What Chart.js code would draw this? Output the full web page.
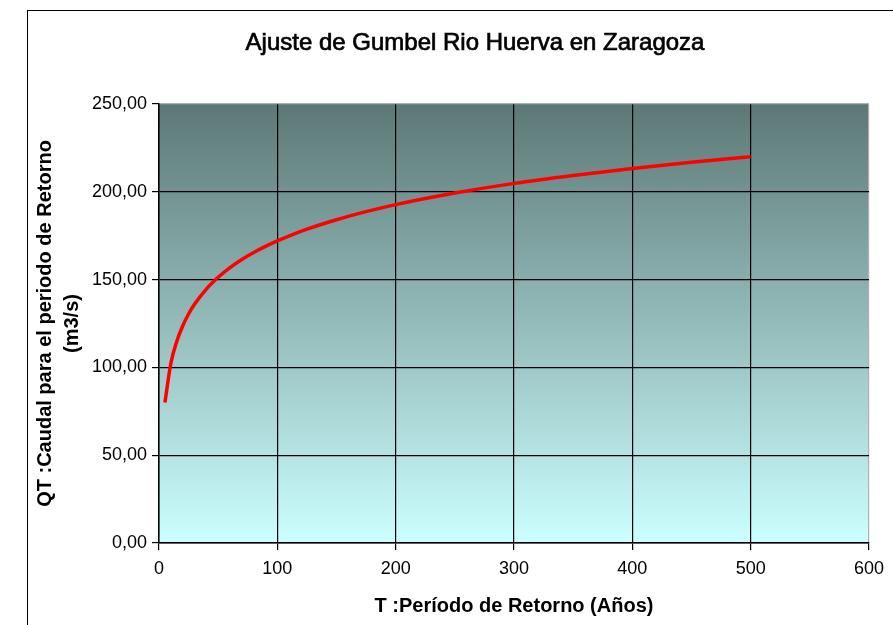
<!DOCTYPE html>
<html>
<head>
<meta charset="utf-8">
<script src="https://cdn.jsdelivr.net/npm/chart.js@4.4.1/dist/chart.umd.min.js"></script>
<style>
  html, body { margin: 0; padding: 0; background: #fff; overflow: hidden; }
  #wrap { position: relative; width: 893px; height: 625px; }
  #frame { position: absolute; left: 27px; top: 10px; width: 900px; height: 700px;
           border-left: 1.5px solid #000; border-top: 1.5px solid #000; box-sizing: border-box; }
  canvas { position: absolute; left: 0; top: 0; }
</style>
</head>
<body>
<div id="wrap">
  <div id="frame"></div>
  <canvas id="c" width="893" height="625"></canvas>
</div>
<script>
// Return period T (years) and the fitted Gumbel discharge QT (m3/s)
const periods = [5, 10, 15, 20, 25, 30, 40, 50, 60, 70, 80, 90, 100, 125, 150, 175, 200, 250, 300, 350, 400, 450, 500];
const discharge = [80.0, 102.2, 114.8, 123.6, 130.4, 135.9, 144.6, 151.3, 156.8, 161.4, 165.4, 168.9, 172.0, 178.7, 184.1, 188.7, 192.7, 199.3, 204.8, 209.3, 213.3, 216.8, 220.0];

const xTicks = [0, 100, 200, 300, 400, 500, 600];
const yTicks = [0, 50, 100, 150, 200, 250];

const chartTitle = 'Ajuste de Gumbel Rio Huerva en Zaragoza';
const yTitle = ['QT :Caudal para el periodo de Retorno', '(m3/s)'];
const xTitle = 'T :Período de Retorno (Años)';

const points = periods.map((t, i) => ({ x: t, y: discharge[i] }));

const fmt = v => v.toFixed(2).replace('.', ',');
const FONT = '"Liberation Sans", Arial, sans-serif';

const plotDecor = {
  id: 'plotDecor',
  beforeDraw(chart) {
    const { ctx, chartArea: a } = chart;
    const g = ctx.createLinearGradient(0, a.top, 0, a.bottom);
    g.addColorStop(0, 'rgb(92,120,118)');
    g.addColorStop(1, 'rgb(204,255,255)');
    ctx.save();
    ctx.fillStyle = g;
    ctx.fillRect(a.left, a.top, a.right - a.left, a.bottom - a.top);
    ctx.restore();
  },
  afterDraw(chart) {
    const { ctx } = chart;
    ctx.save();
    ctx.fillStyle = '#000';
    ctx.strokeStyle = '#000';
    ctx.lineWidth = 0.7;
    ctx.font = '24px ' + FONT;
    ctx.textAlign = 'center';
    ctx.textBaseline = 'middle';
    ctx.fillText(chartTitle, 475, 43);
    ctx.strokeText(chartTitle, 475, 43);
    ctx.restore();
  }
};

new Chart(document.getElementById('c'), {
  type: 'line',
  data: {
    datasets: [{
      data: points,
      borderColor: '#ff0000',
      borderWidth: 3.5,
      pointRadius: 0,
      fill: false,
      cubicInterpolationMode: 'monotone'
    }]
  },
  options: {
    responsive: false,
    animation: false,
    events: [],
    layout: { padding: { top: 104, left: 30, right: 24, bottom: 0 } },
    plugins: { legend: { display: false }, tooltip: { enabled: false } },
    scales: {
      x: {
        type: 'linear',
        min: 0, max: 600,
        afterBuildTicks: s => { s.ticks = xTicks.map(v => ({ value: v })); },
        afterFit: s => { s.height = 82; },
        grid: {
          color: c => (c.tick && c.tick.value === 600 ? '#b0b0b0' : '#000'),
          lineWidth: 1.2,
          tickLength: 7,
          tickColor: '#000'
        },
        border: { display: true, color: '#000', width: 1.5 },
        ticks: {
          color: '#000',
          padding: 8,
          maxRotation: 0,
          font: { family: FONT, size: 18 }
        },
        title: {
          display: true,
          text: xTitle,
          color: '#000',
          padding: { top: 0, bottom: 7 },
          font: { family: FONT, size: 20, weight: 'bold' }
        }
      },
      y: {
        type: 'linear',
        min: 0, max: 250,
        afterBuildTicks: s => { s.ticks = yTicks.map(v => ({ value: v })); },
        afterFit: s => { s.width = 129; },
        grid: {
          color: c => (c.tick && c.tick.value === 250 ? '#b0b0b0' : '#000'),
          lineWidth: 1.2,
          tickLength: 7,
          tickColor: '#000'
        },
        border: { display: true, color: '#000', width: 1.5 },
        ticks: {
          color: '#000',
          padding: 5,
          callback: v => fmt(v),
          font: { family: FONT, size: 18 }
        },
        title: {
          display: true,
          text: yTitle,
          color: '#000',
          padding: { top: 2, bottom: 0 },
          font: { family: FONT, size: 20, weight: 'bold', lineHeight: '27px' }
        }
      }
    }
  },
  plugins: [plotDecor]
});
</script>
</body>
</html>
